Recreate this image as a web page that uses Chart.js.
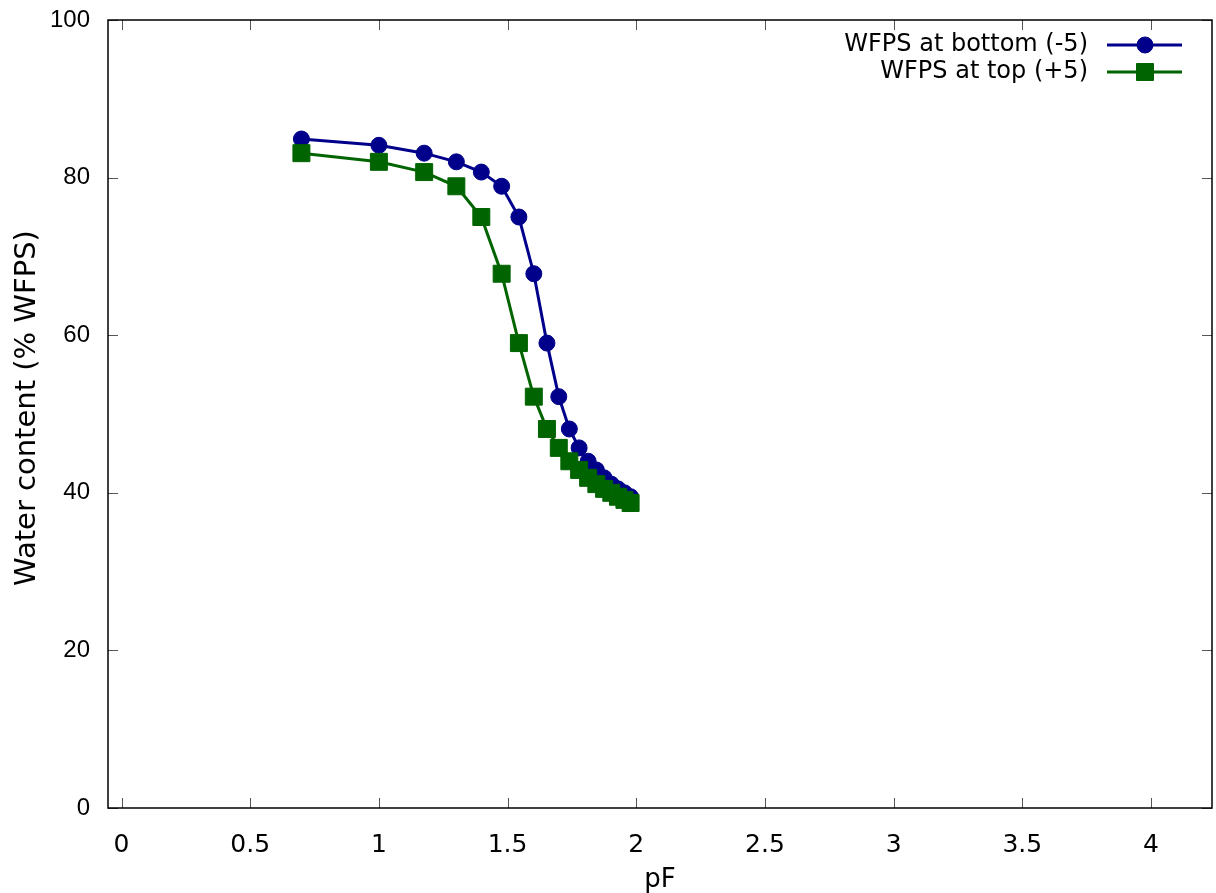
<!DOCTYPE html>
<html><head><meta charset="utf-8">
<script src="https://cdn.jsdelivr.net/npm/chart.js@4/dist/chart.umd.min.js"></script>
<style>html,body{margin:0;padding:0;background:#fff;}#wrap{width:1216px;height:893px;}</style>
</head><body><div id="wrap"><canvas id="c" width="1216" height="893"></canvas></div>
<script>
const pF = [0.699,1.000,1.176,1.301,1.398,1.477,1.544,1.602,1.653,1.699,1.740,1.778,1.813,1.845,1.875,1.903,1.929,1.954,1.978];
const wfpsBottom = [84.9,84.1,83.1,82.0,80.7,78.9,75.0,67.8,59.0,52.2,48.1,45.7,44.0,42.9,41.9,41.1,40.5,40.0,39.5];
const wfpsTop = [83.1,82.0,80.7,78.9,75.0,67.8,59.0,52.2,48.1,45.7,44.0,42.9,41.9,41.1,40.5,40.0,39.5,39.1,38.7];
const xTicks = [0,0.5,1,1.5,2,2.5,3,3.5,4];
const yTicks = [0,20,40,60,80,100];
const seriesLabels = ['WFPS at bottom (-5)','WFPS at top (+5)'];
const xTitle = 'pF';
const yTitle = 'Water content (% WFPS)';

const BLUE = '#00008b', GREEN = '#006400';

const frameAndText = {
  id: 'frameAndText',
  afterDatasetsDraw(chart) {
    const ctx = chart.ctx, a = chart.chartArea;
    const xs = chart.scales.x, ys = chart.scales.y;
    ctx.save();
    ctx.strokeStyle = '#555';
    ctx.lineWidth = 1;
    ctx.beginPath();
    xs.ticks.forEach(t => {
      const px = Math.round(xs.getPixelForValue(t.value)) + 0.5;
      ctx.moveTo(px, a.bottom); ctx.lineTo(px, a.bottom - 10);
      ctx.moveTo(px, a.top); ctx.lineTo(px, a.top + 10);
    });
    ys.ticks.forEach(t => {
      const py = Math.round(ys.getPixelForValue(t.value)) + 0.5;
      ctx.moveTo(a.left, py); ctx.lineTo(a.left + 10, py);
      ctx.moveTo(a.right, py); ctx.lineTo(a.right - 10, py);
    });
    ctx.stroke();
    ctx.strokeStyle = '#000';
    ctx.lineWidth = 1.5;
    ctx.strokeRect(a.left, a.top, a.right - a.left, a.bottom - a.top);
    ctx.fillStyle = '#000';
    ctx.textAlign = 'center';
    ctx.textBaseline = 'middle';
    ctx.font = '26px "DejaVu Sans"';
    ctx.fillText(xTitle, (a.left + a.right) / 2, 880);
    ctx.save();
    ctx.font = '29px "DejaVu Sans"';
    ctx.translate(27, 408);
    ctx.rotate(-Math.PI / 2);
    ctx.fillText(yTitle, 0, 0);
    ctx.restore();
    ctx.font = '24px "DejaVu Sans"';
    ctx.textAlign = 'right';
    chart.data.datasets.forEach((ds, i) => {
      const y = 45 + i * 27;
      ctx.fillStyle = '#000';
      ctx.fillText(ds.label, 1088, y);
      ctx.strokeStyle = ds.borderColor;
      ctx.lineWidth = ds.borderWidth;
      ctx.beginPath(); ctx.moveTo(1107, y); ctx.lineTo(1182, y); ctx.stroke();
      ctx.fillStyle = ds.backgroundColor;
      ctx.lineWidth = ds.pointBorderWidth;
      ctx.beginPath();
      if (ds.pointStyle === 'circle') { ctx.arc(1145, y, ds.pointRadius, 0, Math.PI * 2); }
      else { const h = ds.pointRadius * Math.SQRT1_2; ctx.rect(1145 - h, y - h, 2 * h, 2 * h); }
      ctx.fill(); ctx.stroke();
    });
    ctx.restore();
  }
};

new Chart(document.getElementById('c'), {
  type: 'scatter',
  data: {
    datasets: [
      { label: seriesLabels[0], data: pF.map((x, i) => ({ x: x, y: wfpsBottom[i] })),
        showLine: true, borderColor: BLUE, backgroundColor: BLUE, borderWidth: 3,
        pointStyle: 'circle', pointRadius: 8, pointBorderWidth: 1, order: 1 },
      { label: seriesLabels[1], data: pF.map((x, i) => ({ x: x, y: wfpsTop[i] })),
        showLine: true, borderColor: GREEN, backgroundColor: GREEN, borderWidth: 3,
        pointStyle: 'rect', pointRadius: 12, pointBorderWidth: 1, order: 0 }
    ]
  },
  options: {
    responsive: false, animation: false, devicePixelRatio: 1,
    layout: { autoPadding: false, padding: { top: 20, right: 4, left: 0, bottom: 0 } },
    plugins: { legend: { display: false }, tooltip: { enabled: false } },
    scales: {
      x: {
        type: 'linear', min: -0.0525, max: 4.237,
        afterBuildTicks: s => { s.ticks = xTicks.map(v => ({ value: v })); },
        afterFit: s => { s.height = 85; s.paddingLeft = 0; s.paddingRight = 0; },
        grid: { display: false }, border: { display: false },
        ticks: { callback: v => String(v), color: '#000', padding: 14, maxRotation: 0, autoSkip: false,
                 font: { family: 'DejaVu Sans', size: 25 } }
      },
      y: {
        type: 'linear', min: 0, max: 100,
        afterBuildTicks: s => { s.ticks = yTicks.map(v => ({ value: v })); },
        afterFit: s => { s.width = 108; s.paddingTop = 0; s.paddingBottom = 0; },
        grid: { display: false }, border: { display: false },
        ticks: { callback: v => String(v), color: '#000', padding: 10, autoSkip: false,
                 font: { family: 'Liberation Sans', size: 24 } }
      }
    }
  },
  plugins: [frameAndText]
});
</script>
</body></html>
